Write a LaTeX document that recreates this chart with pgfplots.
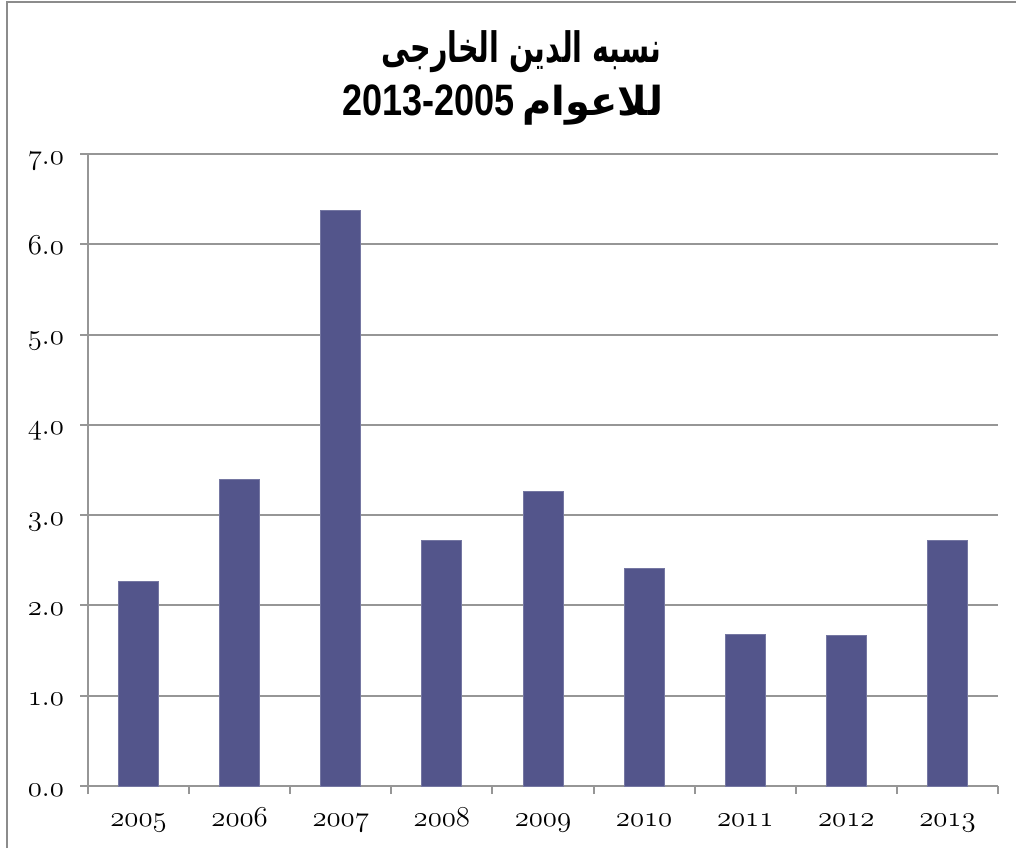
\documentclass[border=0pt]{standalone}
\usepackage{fontspec}
\usepackage{graphicx}
\usepackage{pgfplots}
\pgfplotsset{compat=1.18}
\TeXXeTstate=1
\newfontfamily\arabicfont[Script=Arabic]{DejaVu Sans}
\newfontfamily\titlefont{Liberation Sans}
\newcommand{\osf}[1]{{\usefont{OML}{cmm}{m}{it}#1}}
\newcommand{\osd}[2]{{\usefont{OML}{cmm}{m}{it}#1\char58 #2}}
\definecolor{barcol}{RGB}{83,85,139}
\definecolor{gridcol}{RGB}{150,150,150}
\definecolor{framecol}{RGB}{140,140,140}
\begin{document}
\begin{tikzpicture}
\path[use as bounding box] (0,0) rectangle (508pt,424pt);
\draw[framecol, line width=1pt] (3.25pt,0) -- (3.25pt,422.75pt) -- (508pt,422.75pt);
\node[anchor=base, inner sep=0pt] at (260.75pt,392.5pt)
  {\scalebox{0.68}[1]{\fontsize{21}{25}\selectfont\arabicfont\bfseries\beginR نسبه الدين الخارجى\endR}};
\node[anchor=base west, inner sep=0pt] at (171pt,366pt)
  {\scalebox{0.82}[1]{\fontsize{22}{26}\selectfont\titlefont\bfseries 2013-2005}};
\node[anchor=base west, inner sep=0pt] at (261pt,366pt)
  {\scalebox{1.0}[1]{\fontsize{20}{24}\selectfont\arabicfont\bfseries\beginR للاعوام\endR}};
\begin{axis}[
  at={(44pt,31pt)}, anchor=south west,
  scale only axis, width=455pt, height=316pt,
  xmin=-0.5, xmax=8.5, ymin=0, ymax=7,
  axis x line*=bottom, axis y line*=left,
  axis line style={gridcol, line width=1pt, -},
  ymajorgrids, grid style={gridcol, line width=1pt},
  xtick={0,...,8},
  xticklabels={\osf{2005},\osf{2006},\osf{2007},\osf{2008},\osf{2009},\osf{2010},\osf{2011},\osf{2012},\osf{2013}},
  minor xtick={-0.5,0.5,...,8.5},
  major x tick style={draw=none},
  ytick={0,...,7},
  yticklabels={\osd{0}{0},\osd{1}{0},\osd{2}{0},\osd{3}{0},\osd{4}{0},\osd{5}{0},\osd{6}{0},\osd{7}{0}},
  tick align=outside,
  major tick length=4pt, minor tick length=4pt,
  tick style={gridcol, line width=1pt},
  tick label style={font=\fontsize{15.5}{18}\selectfont, text height=7pt, text depth=3pt},
  yticklabel style={xshift=-4.5pt, yshift=-3pt},
  xticklabel style={yshift=-5.5pt},
]
\addplot[ybar, bar width=20pt, fill=barcol, draw=barcol!80!white, line width=0.5pt] coordinates {
(0,2.27) (1,3.39) (2,6.37) (3,2.72) (4,3.26) (5,2.41) (6,1.68) (7,1.67) (8,2.72)
};
\end{axis}
\end{tikzpicture}
\end{document}
